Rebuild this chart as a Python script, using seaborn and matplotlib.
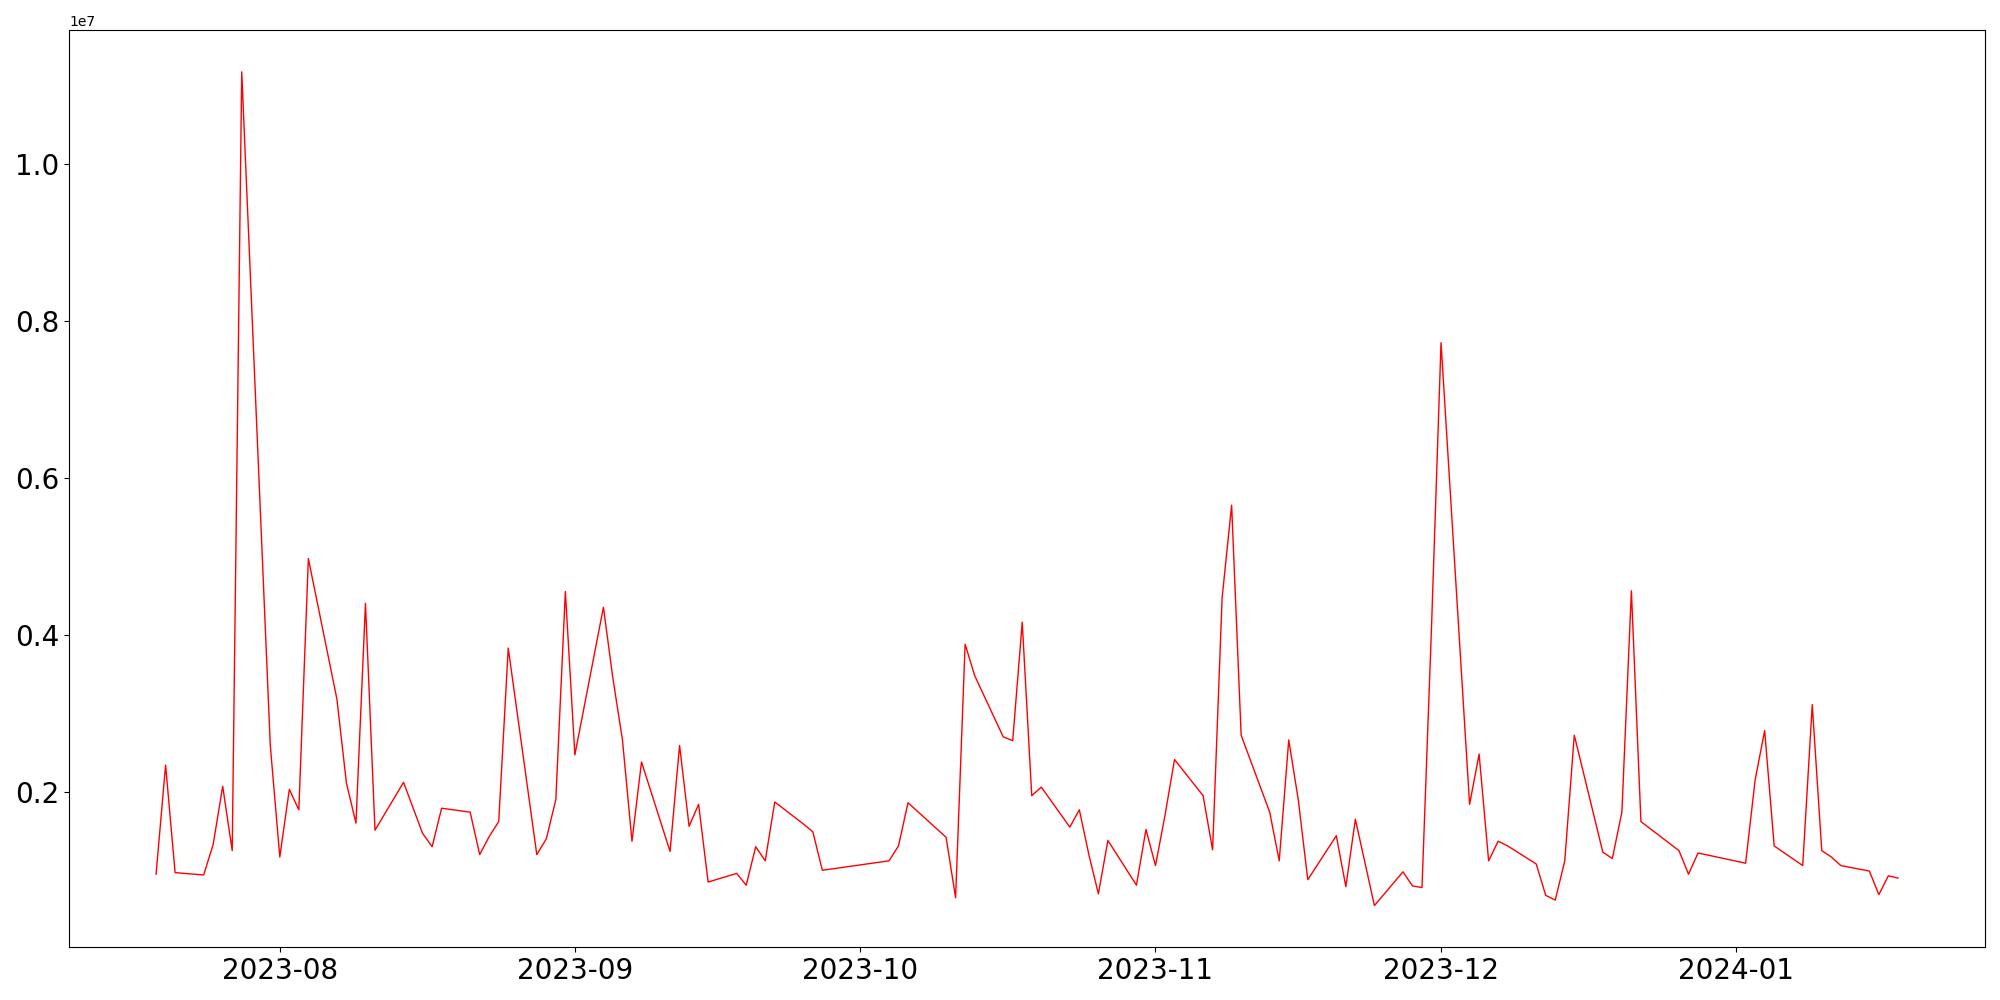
import pandas as pd
import numpy as np
import matplotlib
matplotlib.use("Agg")
import matplotlib.pyplot as plt
import seaborn as sns

# =====================================================
# DATA (daily values, KRX trading days)
# =====================================================

START = "2023-07-19"
END = "2024-01-18"
HOLIDAYS = [
    "2023-08-15", "2023-09-28", "2023-09-29", "2023-10-02", "2023-10-03",
    "2023-10-09", "2023-12-25", "2023-12-29", "2024-01-01",
]

jul_vals = [0.95, 2.34, 0.97, 0.94, 1.33, 2.07, 1.25, 11.17, 2.59]
aug_vals = [1.17, 2.03, 1.77, 4.97, 3.18, 2.11, 1.60, 4.40, 1.51, 2.12, 1.47,
            1.30, 1.79, 1.74, 1.20, 1.43, 1.62, 3.83, 1.20, 1.40, 1.90, 4.55]
sep_vals = [2.47, 4.35, 3.44, 2.66, 1.37, 2.38, 1.24, 2.59, 1.56, 1.84, 0.85,
            0.96, 0.81, 1.30, 1.12, 1.87, 1.59, 1.49, 1.00]
oct_vals = [1.12, 1.31, 1.86, 1.42, 0.65, 3.88, 3.48, 2.70, 2.65, 4.16, 1.95,
            2.06, 1.55, 1.77, 1.20, 0.70, 1.38, 0.81, 1.52]
nov_vals = [1.06, 1.70, 2.41, 1.95, 1.26, 4.47, 5.65, 2.72, 1.74, 1.12, 2.66,
            1.90, 0.88, 1.44, 0.79, 1.65, 1.10, 0.55, 0.98, 0.80, 0.78, 4.10]
dec_vals = [7.72, 1.84, 2.48, 1.12, 1.37, 1.31, 1.08, 0.68, 0.62, 1.12, 2.72,
            1.23, 1.15, 1.74, 4.56, 1.62, 1.25, 0.95, 1.22]
jan_vals = [1.09, 2.15, 2.78, 1.31, 1.06, 3.11, 1.25, 1.17, 1.06, 0.99, 0.69,
            0.93, 0.90]

# =====================================================
# BUILD SERIES
# =====================================================

dates = pd.bdate_range(START, END, freq="C", holidays=HOLIDAYS)
values_m = jul_vals + aug_vals + sep_vals + oct_vals + nov_vals + dec_vals + jan_vals
values = np.array(values_m) * 1e6

df = pd.DataFrame({"date": dates, "value": values})

# =====================================================
# PLOT
# =====================================================

fig, ax = plt.subplots(figsize=(20, 10), dpi=100)
sns.lineplot(data=df, x="date", y="value", color="red", linewidth=1, ax=ax)
ax.set_xlabel("")
ax.set_ylabel("")
plt.xticks(fontsize=20)
plt.yticks(fontsize=20)
plt.tight_layout()
plt.savefig("out.png", dpi=100)
